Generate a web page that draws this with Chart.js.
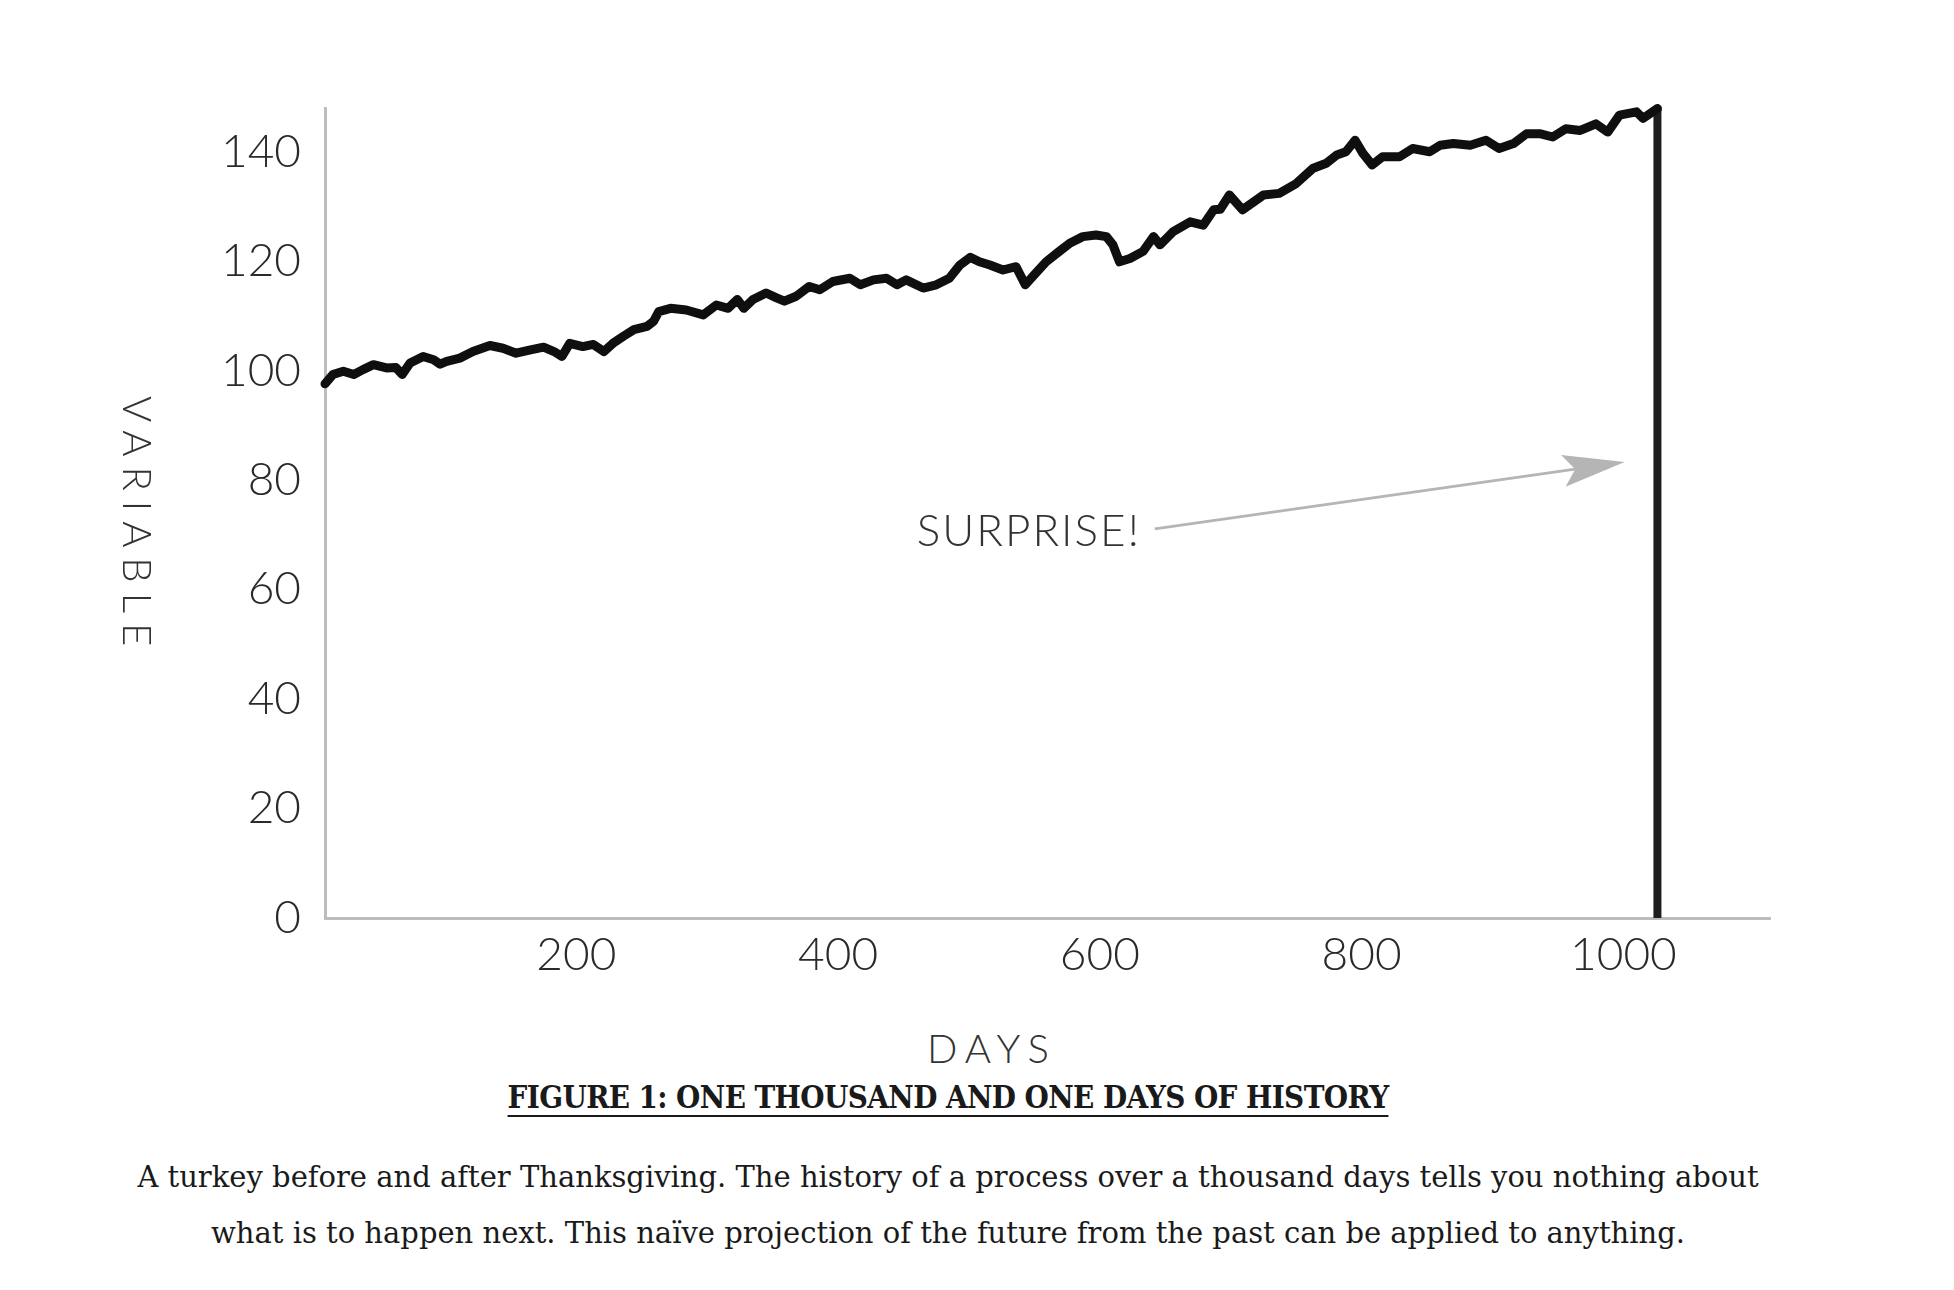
<!DOCTYPE html>
<html>
<head>
<meta charset="utf-8">
<title>One thousand and one days of history</title>
<script src="https://cdn.jsdelivr.net/npm/chart.js@4.4.1/dist/chart.umd.min.js"></script>
<style>
    html, body { margin: 0; padding: 0; background: #fff; }
    .page { position: relative; width: 1954px; height: 1290px; overflow: hidden; }
    .chart-box { position: absolute; left: 0; top: 0; width: 1954px; height: 1000px; }
    .axis-title { position: absolute; font-family: Lato, sans-serif; font-weight: 300; color: #333; font-size: 40px; line-height: 40px; letter-spacing: 8px; }
    .y-title { left: 118px; top: 396px; writing-mode: vertical-rl; letter-spacing: 10px; }
    .x-title { left: 992px; top: 1028px; transform: translateX(-50%); }
    .caption { position: absolute; left: 0; width: 1896px; text-align: center; font-family: "DejaVu Serif", serif; color: #1a1a1a; }
    .fig-title { top: 1077px; font-size: 31px; line-height: 40px; font-weight: bold; font-stretch: condensed; letter-spacing: -0.6px; text-decoration: underline; text-underline-offset: 7px; text-decoration-thickness: 2px; }
    .fig-text { top: 1149px; font-size: 29px; line-height: 56px; }
</style>
</head>
<body>
<div class="page">
    <div class="chart-box"><canvas id="chart-turkey"></canvas></div>
    <div class="axis-title y-title">VARIABLE</div>
    <div class="axis-title x-title">DAYS</div>
    <div class="caption fig-title">FIGURE 1: ONE THOUSAND AND ONE DAYS OF HISTORY</div>
    <div class="caption fig-text">A turkey before and after Thanksgiving. The history of a process over a thousand days tells you nothing about<br>what is to happen next. This naïve projection of the future from the past can be applied to anything.</div>
</div>

<script>
// Days and values
const DAYS = [
    8, 14, 22, 30, 37, 45, 55, 62, 67, 73, 83, 91, 96, 101, 111, 121, 134, 144, 154, 165,
    175, 183, 189, 195, 205, 213, 221, 228, 236, 244, 254, 259, 263, 272, 284, 297, 307, 316, 323, 328,
    335, 345, 353, 359, 368, 378, 386, 396, 409, 417, 427, 437, 445, 452, 465, 475, 485, 493, 501, 508,
    516, 526, 536, 543, 552, 559, 569, 577, 587, 597, 605, 610, 615, 623, 633, 641, 646, 656, 669, 679,
    687, 692, 699, 709, 725, 737, 750, 763, 773, 781, 788, 795, 801, 808, 816, 829, 839, 852, 860, 870,
    883, 895, 905, 916, 926, 936, 946, 956, 967, 979, 988, 997, 1010, 1015, 1026
];
const VALUES = [
    97.6, 99.3, 99.9, 99.3, 100.2, 101.1, 100.5, 100.6, 99.3, 101.4, 102.6, 102.0, 101.2, 101.7, 102.3, 103.5, 104.6, 104.1, 103.2, 103.8,
    104.3, 103.5, 102.6, 105.0, 104.4, 104.8, 103.5, 105.0, 106.3, 107.5, 108.1, 109.0, 110.8, 111.4, 111.1, 110.2, 112.0, 111.4, 113.0, 111.4,
    113.0, 114.2, 113.3, 112.7, 113.6, 115.4, 114.8, 116.3, 116.9, 115.7, 116.6, 116.9, 115.7, 116.6, 115.1, 115.7, 116.9, 119.3, 120.7, 119.9,
    119.3, 118.4, 119.0, 115.7, 118.1, 119.9, 121.8, 123.3, 124.5, 124.8, 124.5, 123.0, 119.9, 120.5, 121.8, 124.5, 123.0, 125.4, 127.2, 126.6,
    129.4, 129.5, 132.1, 129.4, 132.1, 132.4, 134.2, 137.0, 137.9, 139.4, 140.0, 142.1, 139.7, 137.6, 139.1, 139.1, 140.6, 140.0, 141.2, 141.5,
    141.2, 142.1, 140.6, 141.5, 143.3, 143.3, 142.7, 144.2, 143.9, 145.1, 143.6, 146.7, 147.3, 146.1, 147.9
];

// Thanksgiving: straight drop to zero
const DROP_DAY = 1026;
const DROP_VALUES = [147.9, 0];

// Axes
const X_TICKS = [200, 400, 600, 800, 1000];
const Y_TICKS = [0, 20, 40, 60, 80, 100, 120, 140];
const X_RANGE = [8, 1112];
const Y_RANGE = [0, 148];

// Annotation
const ANNOTATION_TEXT = 'SURPRISE!';
const ARROW_FROM = [642, 71.1];
const ARROW_TO = [1001, 83.3];

const COLORS = {
    line: '#0f0f0f',
    drop: '#1e1e1e',
    axis: '#bdbdbd',
    tick: '#2a2a2a',
    arrow: '#b5b5b5',
    note: '#333333'
};

/**
 * Arrow + "SURPRISE!" label, placed in data coordinates
 */
const surprisePlugin = {
    id: 'surprise',
    afterDatasetsDraw(chart) {
        const { ctx, scales: { x, y } } = chart;
        const x0 = x.getPixelForValue(ARROW_FROM[0]);
        const y0 = y.getPixelForValue(ARROW_FROM[1]);
        const x1 = x.getPixelForValue(ARROW_TO[0]);
        const y1 = y.getPixelForValue(ARROW_TO[1]);
        const ang = Math.atan2(y1 - y0, x1 - x0);
        const headLen = 62, headW = 16, notch = 12;

        ctx.save();
        ctx.strokeStyle = COLORS.arrow;
        ctx.fillStyle = COLORS.arrow;
        ctx.lineWidth = 3;
        ctx.beginPath();
        ctx.moveTo(x0, y0);
        ctx.lineTo(x1 - (headLen - notch) * Math.cos(ang), y1 - (headLen - notch) * Math.sin(ang));
        ctx.stroke();

        ctx.translate(x1, y1);
        ctx.rotate(ang);
        ctx.beginPath();
        ctx.moveTo(0, 0);
        ctx.lineTo(-headLen, -headW);
        ctx.lineTo(-headLen + notch, 0);
        ctx.lineTo(-headLen, headW);
        ctx.closePath();
        ctx.fill();
        ctx.restore();

        ctx.save();
        ctx.font = '300 44px Lato, sans-serif';
        ctx.letterSpacing = '2px';
        ctx.fillStyle = COLORS.note;
        ctx.textAlign = 'right';
        ctx.textBaseline = 'middle';
        ctx.fillText(ANNOTATION_TEXT, x0 - 14, y0 + 3);
        ctx.restore();
    }
};

function initTurkeyChart() {
    const ctx = document.getElementById('chart-turkey');
    if (!ctx) return;

    const history = DAYS.map((d, i) => ({ x: d, y: VALUES[i] }));
    const drop = DROP_VALUES.map(v => ({ x: DROP_DAY, y: v }));

    const tickFont = { family: 'Lato, sans-serif', size: 46, weight: '300' };

    new Chart(ctx, {
        type: 'line',
        data: {
            datasets: [{
                data: history,
                borderColor: COLORS.line,
                borderWidth: 9,
                borderJoinStyle: 'round',
                borderCapStyle: 'round',
                pointRadius: 0,
                tension: 0,
                clip: false
            }, {
                data: drop,
                borderColor: COLORS.drop,
                borderWidth: 8,
                pointRadius: 0,
                clip: false
            }]
        },
        options: {
            responsive: true,
            maintainAspectRatio: false,
            animation: false,
            layout: { padding: { left: 0, top: 108, right: 184, bottom: 0 } },
            plugins: {
                legend: { display: false },
                tooltip: { enabled: false }
            },
            scales: {
                x: {
                    type: 'linear',
                    min: X_RANGE[0],
                    max: X_RANGE[1],
                    grid: { display: false, drawTicks: false },
                    border: { display: true, color: COLORS.axis, width: 3 },
                    ticks: {
                        color: COLORS.tick,
                        font: tickFont,
                        padding: 10,
                        maxRotation: 0,
                        callback: (value) => String(value)
                    },
                    afterBuildTicks: (scale) => { scale.ticks = X_TICKS.map(v => ({ value: v })); },
                    afterFit: (scale) => { scale.height = 82; }
                },
                y: {
                    min: Y_RANGE[0],
                    max: Y_RANGE[1],
                    grid: { display: false, drawTicks: false },
                    border: { display: true, color: COLORS.axis, width: 3 },
                    ticks: {
                        color: COLORS.tick,
                        font: tickFont,
                        padding: 24,
                        callback: (value) => String(value)
                    },
                    afterBuildTicks: (scale) => { scale.ticks = Y_TICKS.map(v => ({ value: v })); },
                    afterFit: (scale) => { scale.width = 325; }
                }
            }
        },
        plugins: [surprisePlugin]
    });
}

initTurkeyChart();
</script>
</body>
</html>
